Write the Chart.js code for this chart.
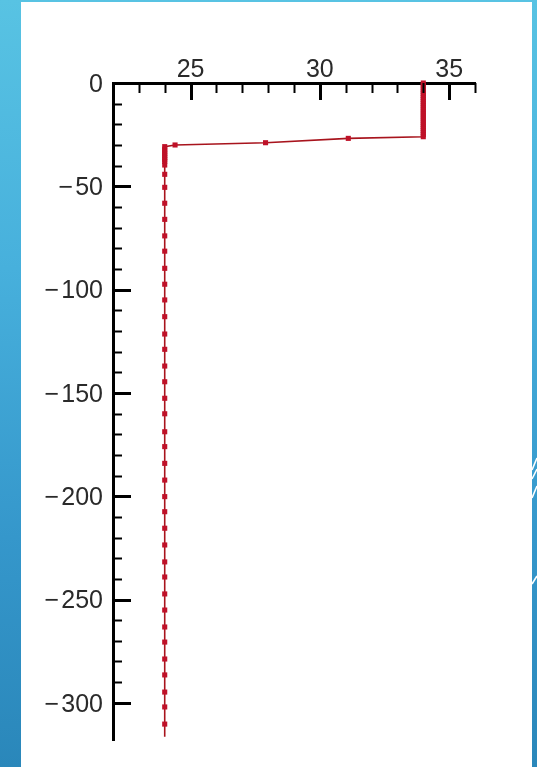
<!DOCTYPE html>
<html>
<head>
<meta charset="utf-8">
<script src="https://cdn.jsdelivr.net/npm/chart.js@4/dist/chart.umd.min.js"></script>
<style>
  html, body { margin: 0; padding: 0; width: 537px; height: 767px; overflow: hidden; }
  body {
    position: relative;
    background: linear-gradient(to bottom, #58c3e3 0%, #47b0dc 35%, #3597cb 70%, #2a87ba 100%);
  }
  #panel { position: absolute; left: 21px; top: 2px; width: 511px; height: 765px; background: #fff; }
  #decor { position: absolute; left: 528px; top: 440px; }
  #wrap { position: absolute; left: 0; top: 0; width: 537px; height: 767px; }
</style>
</head>
<body>
<div id="panel"></div>
<svg id="decor" width="9" height="160" viewBox="0 0 9 160">
  <g stroke="#ffffff" stroke-width="1.6" fill="none">
    <path d="M4 30 L9 18"/>
    <path d="M4 39 L9 29"/>
    <path d="M4 58 L9 46"/>
    <path d="M4 144 L9 136"/>
  </g>
</svg>
<div id="wrap"><canvas id="c" width="537" height="767"></canvas></div>
<script>
// Temperature profile: value against depth (m, negative downward)
const temperature = [
  34, 34, 34, 34, 34, 34, 34, 34, 34, 34, 34, 34, 34, 34, 34, 34, 34, 34, 34, 34, 34, 34, 34, 34, 34, 34, 34,
  31.1, 27.9, 24.4,
  24, 24, 24, 24, 24, 24, 24, 24,
  24, 24, 24, 24, 24, 24, 24, 24, 24, 24, 24, 24, 24, 24, 24, 24, 24, 24, 24, 24,
  24, 24, 24, 24, 24, 24, 24, 24, 24, 24, 24, 24, 24, 24, 24, 24, 24
];
const depth = [
  0, -1, -2, -3, -4, -5, -6, -7, -8, -9, -10, -11, -12, -13, -14, -15, -16, -17, -18, -19, -20, -21, -22, -23, -24, -25, -26,
  -26.8, -28.9, -30.0,
  -30.8, -32, -33, -34, -35, -36, -37, -38,
  -39.7, -44.2, -50.5, -58.2, -66, -74, -81.4, -89.7, -97.4, -105, -113.1, -121.5, -128.9, -137, -144.6, -152.6, -160.1, -168.8, -176, -184.1,
  -192.2, -200.2, -207.5, -215.5, -223.6, -231.8, -239.1, -247.3, -255.1, -263.3, -270.6, -278.8, -286.5, -294.8, -302, -310.3, -316.4
];
const xTickLabels = [25, 30, 35];
const yTickLabels = [0, -50, -100, -150, -200, -250, -300];

const LABEL_FONT = { family: "'Liberation Sans', Arial, sans-serif", size: 25 };
const fmt = v => (v < 0 ? '\u2212\u200a' + Math.abs(v) : String(v));

// Tick marks drawn inward from the axis lines
const inwardTicks = {
  id: 'inwardTicks',
  afterDraw(chart) {
    const { ctx, chartArea, scales } = chart;
    ctx.save();
    ctx.strokeStyle = '#000';
    ctx.lineCap = 'butt';
    for (const t of scales.x.ticks) {
      const v = t.value;
      if (!Number.isInteger(v) || v === scales.x.min) continue;
      const major = xTickLabels.includes(v);
      const px = Math.round(scales.x.getPixelForValue(v)) + 0.5;
      ctx.lineWidth = major ? 3 : 2;
      ctx.beginPath();
      ctx.moveTo(px, chartArea.top);
      ctx.lineTo(px, chartArea.top + (major ? 17 : 10));
      ctx.stroke();
    }
    for (const t of scales.y.ticks) {
      const v = t.value;
      if (v % 10 !== 0 || v === 0) continue;
      const major = yTickLabels.includes(v);
      const py = Math.round(scales.y.getPixelForValue(v)) + 0.5;
      ctx.lineWidth = major ? 3 : 2;
      ctx.beginPath();
      ctx.moveTo(chartArea.left, py);
      ctx.lineTo(chartArea.left + (major ? 18 : 9), py);
      ctx.stroke();
    }
    ctx.restore();
  }
};

new Chart(document.getElementById('c'), {
  type: 'scatter',
  data: {
    datasets: [{
      data: depth.map((d, i) => ({ x: temperature[i], y: d })),
      showLine: true,
      borderColor: '#a8141d',
      borderWidth: 1.6,
      pointStyle: 'rect',
      pointRadius: c => (c.dataIndex === depth.length - 1 ? 0 : 3.6),
      pointBackgroundColor: '#bf1128',
      pointBorderColor: '#bf1128',
      pointBorderWidth: 0,
      clip: false
    }]
  },
  plugins: [inwardTicks],
  options: {
    responsive: false,
    animation: false,
    layout: { padding: { left: 0, top: 0, right: 62, bottom: 27 } },
    plugins: { legend: { display: false }, tooltip: { enabled: false } },
    scales: {
      x: {
        type: 'linear',
        position: 'top',
        min: 22,
        max: 36,
        afterFit(s) { s.height = 83; },
        grid: { drawOnChartArea: false, drawTicks: false },
        border: { display: true, color: '#000', width: 3 },
        ticks: {
          stepSize: 1,
          autoSkip: false,
          maxRotation: 0,
          padding: -2,
          color: '#2a2a2a',
          font: LABEL_FONT,
          callback: v => (xTickLabels.includes(v) ? fmt(v) : '')
        }
      },
      y: {
        type: 'linear',
        min: -318,
        max: 0,
        afterFit(s) { s.width = 113; },
        grid: { drawOnChartArea: false, drawTicks: false },
        border: { display: true, color: '#000', width: 3 },
        ticks: {
          stepSize: 10,
          autoSkip: false,
          padding: 10,
          labelOffset: 2,
          color: '#2a2a2a',
          font: LABEL_FONT,
          callback: v => (yTickLabels.includes(v) ? fmt(v) : '')
        }
      }
    }
  }
});
</script>
</body>
</html>
